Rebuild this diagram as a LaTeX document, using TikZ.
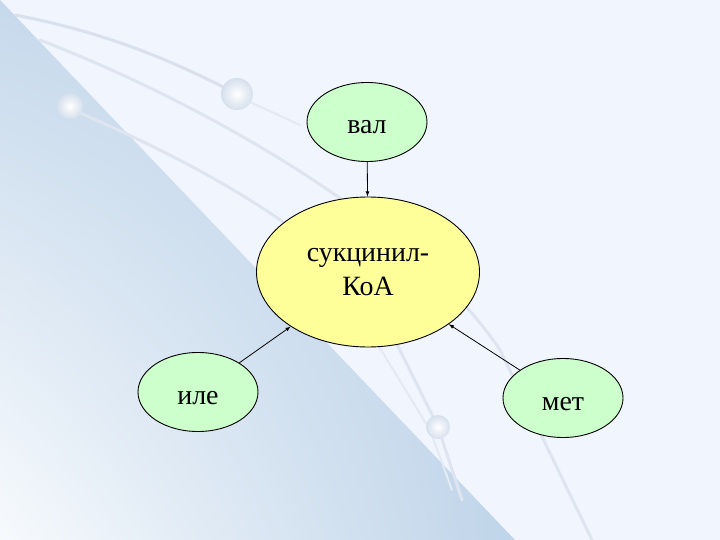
\documentclass[tikz,border=0pt]{standalone}
\usepackage{fontspec}
\setmainfont{Liberation Serif}
\usepackage{xcolor}
\usetikzlibrary{shapes.geometric, arrows, positioning, calc, shadings}

\definecolor{slidebg}{HTML}{F1F5FD}
\definecolor{slideblue}{HTML}{BCD2E8}
\definecolor{slidepale}{HTML}{F7FAFD}
\definecolor{swoosh}{HTML}{D8E1ED}
\definecolor{leafgreen}{HTML}{CCFFCC}
\definecolor{paleyellow}{HTML}{FFFF99}

\tikzset{
  amino/.style={ellipse, draw=black, fill=leafgreen, line width=0.9bp, inner sep=0pt,
    minimum width=120bp, minimum height=79bp, text height=24bp, text depth=0bp,
    font=\fontsize{28}{32}\selectfont},
  hub/.style={ellipse, draw=black, fill=paleyellow, line width=0.9bp, inner sep=0pt,
    minimum width=223bp, minimum height=150bp, align=center,
    font=\fontsize{28}{35}\selectfont},
  feed/.style={->, >=latex, line width=0.8bp},
  bead/.style={inner color=white, outer color=swoosh!90!slideblue}
}

\begin{document}
\begin{tikzpicture}[x=1bp, y=-1bp]
\useasboundingbox (0,0) rectangle (720,540);

% Background
\fill[slidebg] (0,0) rectangle (720,540);
\shade[upper left=slideblue!85, lower left=slidepale, upper right=slideblue, lower right=slideblue!95]
    (0,0) -- (515,540) -- (0,540) -- cycle;

% Swooshes and balls
\draw[swoosh, line width=3bp, line cap=round] (15,15) .. controls (120,35) and (190,70) .. (237,94);
\draw[swoosh!70, line width=2bp, line cap=round] (250,102) -- (300,125);
\draw[swoosh!85, line width=3bp, line cap=round] (40,40) .. controls (220,110) and (420,230) .. (500,350) -- (592,540);
\draw[swoosh!85, line width=3bp, line cap=round] (80,113) .. controls (200,165) and (340,240) .. (390,330) -- (438,427) -- (462,500);
\draw[swoosh!70, line width=2bp, line cap=round] (378,345) -- (430,430) -- (452,490);
\shade[bead] (237,94) circle (16bp);
\shade[bead] (70,106) circle (13bp);
\shade[bead] (438,427) circle (12bp);

% Nodes
\node[hub] (suc) at (368,272) {сукцинил-\\КоА};
\node[amino] (val) at (367,122) {вал};
\node[amino] (ile) at (198,392) {иле};
\node[amino] (met) at (563,398) {мет};

% Arrows
\draw[feed] (val) -- (suc);
\draw[feed] (ile) -- (suc);
\draw[feed] (met) -- (suc);
\end{tikzpicture}
\end{document}
